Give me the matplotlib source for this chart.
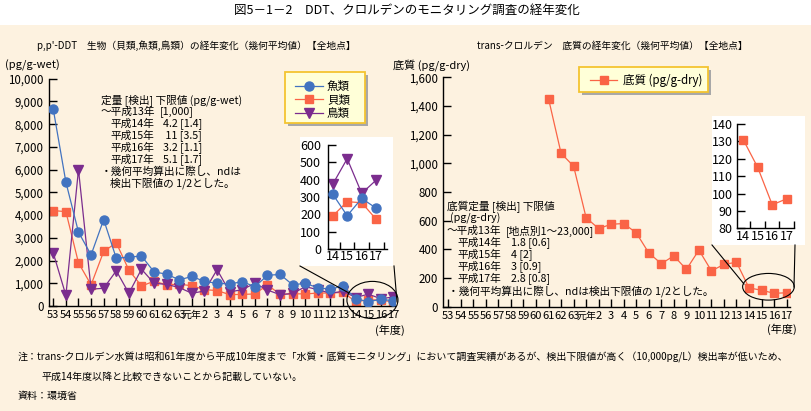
import matplotlib
matplotlib.use('Agg')
import matplotlib.pyplot as plt
from matplotlib.patches import Rectangle, Ellipse
from matplotlib.lines import Line2D
import numpy as np

plt.rcParams['font.family'] = ['Noto Sans CJK JP', 'DejaVu Sans']

# ---------------- data ----------------
years = ['53', '54', '55', '56', '57', '58', '59', '60', '61', '62', '63',
         '元年', '2', '3', '4', '5', '6', '7', '8', '9', '10', '11', '12', '13',
         '14', '15', '16', '17']
fish = [8650, 5450, 3250, 2250, 3800, 2100, 2150, 2200, 1500, 1400, 1150,
        1300, 1080, 1000, 970, 1070, 850, 1350, 1390, 930, 1000, 800, 740, 890,
        317, 192, 292, 235]
shell = [4200, 4150, 1900, 930, 2400, 2780, 1580, 880, 1090, 930, 960,
         890, 720, 680, 500, 510, 530, 930, 510, 540, 530, 570, 570, 600,
         190, 273, 267, 171]
bird = [2330, 470, 6000, 740, 780, 1550, 560, 1620, 1000, 950, 810,
        560, 660, 1600, 620, 720, 1000, 700, 500, 550, 850, 720, 560, 650,
        373, 521, 321, 398]
sediment = [np.nan] * 8 + [1450, 1070, 980,
                           620, 545, 575, 580, 515, 375, 300, 355, 260, 395, 250, 295, 310,
                           131, 115, 93.5, 97]
inset_years = ['14', '15', '16', '17']
left_yticks = list(range(0, 10001, 1000))
right_yticks = list(range(0, 1601, 200))

C_FISH = '#4273C0'
C_SHELL = '#FA6446'
C_BIRD = '#7B2D8E'
BEIGE = '#FDF2E0'

W, H = 811, 411
fig = plt.figure(figsize=(W / 100, H / 100), dpi=100)
fig.patch.set_facecolor('white')


def fx(px):
    return px / W


def fy(py):
    return 1 - py / H


def rect_ax(x0, y0, x1, y1):
    return [fx(x0), fy(y1), fx(x1) - fx(x0), fy(y0) - fy(y1)]


def T(x, y, s, size=7.7, ha='left', **kw):
    fig.text(fx(x), fy(y), s, fontsize=size, ha=ha, va='center', **kw)


# background band
fig.add_artist(Rectangle((0, 0), 1, fy(25), transform=fig.transFigure,
                         facecolor=BEIGE, edgecolor='none', zorder=-5))

styles = {
    'fish': dict(color=C_FISH, marker='o', ms=6.5, lw=0.9),
    'shell': dict(color=C_SHELL, marker='s', ms=5.6, lw=0.9),
    'bird': dict(color=C_BIRD, marker='v', ms=6.5, lw=0.9),
}


def style_axis(ax, fs=8.3, ypad=4, xpad=3):
    ax.set_facecolor('none')
    for s in ['top', 'right']:
        ax.spines[s].set_visible(False)
    for s in ['left', 'bottom']:
        ax.spines[s].set_linewidth(1.0)
        ax.spines[s].set_color('black')
    ax.tick_params(axis='both', direction='in', length=6, width=1.0,
                   labelsize=fs, colors='black')
    ax.tick_params(axis='y', pad=ypad)
    ax.tick_params(axis='x', pad=xpad)


def year_labels(ax):
    ax.set_xticks(np.arange(len(years)))
    ax.set_xticklabels(years)
    for lab in ax.get_xticklabels():
        lab.set_fontsize(8)
        if lab.get_text() == '元年':
            lab.set_fontsize(7.2)


x = np.arange(len(years))

# ---------------- left main ----------------
ax1 = fig.add_axes(rect_ax(49, 78.7, 395, 306))
style_axis(ax1)
ax1.plot(x, fish, **styles['fish'], zorder=3)
ax1.plot(x, shell, **styles['shell'], zorder=2)
ax1.plot(x, bird, **styles['bird'], zorder=2.5)
ax1.set_xlim(-0.34, 27.12)
ax1.set_ylim(0, 10000)
ax1.set_yticks(left_yticks)
ax1.set_yticklabels([f'{v:,}' for v in left_yticks])
year_labels(ax1)
ax1.add_patch(Ellipse((25.33, 265), 4.05, 1635, fill=False, edgecolor='black',
                      lw=0.8, clip_on=False, zorder=5))

# ---------------- right main ----------------
ax2 = fig.add_axes(rect_ax(443.3, 77.3, 790, 306.7))
style_axis(ax2)
ax2.plot(x, sediment, **styles['shell'])
ax2.set_xlim(-0.4, 27.27)
ax2.set_ylim(0, 1600)
ax2.set_yticks(right_yticks)
ax2.set_yticklabels([f'{v:,}' for v in right_yticks])
year_labels(ax2)
ax2.add_patch(Ellipse((25.55, 139), 4.12, 186, fill=False, edgecolor='black',
                      lw=0.8, clip_on=False, zorder=5))

# ---------------- insets ----------------
for box in [(300, 137, 393, 266), (712, 116, 805, 245)]:
    bx = fig.add_axes(rect_ax(*box))
    bx.set_facecolor('white')
    bx.set_xticks([]); bx.set_yticks([])
    for s in bx.spines.values():
        s.set_visible(False)

xi = np.arange(4)
ins1 = fig.add_axes(rect_ax(328, 145, 387, 249))
style_axis(ins1, fs=9, ypad=5, xpad=1)
ins1.set_facecolor('white')
ins1.plot(xi, fish[-4:], **styles['fish'], zorder=3)
ins1.plot(xi, shell[-4:], **styles['shell'])
ins1.plot(xi, bird[-4:], **styles['bird'])
ins1.set_xlim(-0.32, 3.74)
ins1.set_ylim(0, 600)
ins1.set_yticks(range(0, 601, 100))
ins1.set_xticks(xi)
ins1.set_xticklabels(inset_years)
ins1.tick_params(axis='x', which='major', length=0)
ins1.set_xticks(xi + 0.5, minor=True)
ins1.tick_params(axis='x', which='minor', direction='in', length=5, width=1)

ins2 = fig.add_axes(rect_ax(736.7, 124, 794, 228.3))
style_axis(ins2, fs=9, ypad=3, xpad=1)
ins2.set_facecolor('white')
ins2.plot(xi, sediment[-4:], **styles['shell'])
ins2.set_xlim(-0.45, 3.5)
ins2.set_ylim(80, 140)
ins2.set_yticks(range(80, 141, 10))
ins2.set_xticks(xi)
ins2.set_xticklabels(inset_years)
ins2.tick_params(axis='x', which='major', length=0)
ins2.set_xticks(xi + 0.5, minor=True)
ins2.tick_params(axis='x', which='minor', direction='in', length=5, width=1)

# connector lines
for (x0, y0, x1, y1) in [(300, 266, 349, 293), (394, 266, 397, 302),
                         (712, 245, 744, 284), (795, 245, 794, 287)]:
    fig.add_artist(Line2D([fx(x0), fx(x1)], [fy(y0), fy(y1)],
                          transform=fig.transFigure, color='black', lw=0.8))

# ---------------- legends ----------------
def legend_box(x0, y0, x1, y1):
    fig.add_artist(Rectangle((fx(x0 + 3), fy(y1 + 3)), fx(x1) - fx(x0), fy(y0) - fy(y1),
                             transform=fig.transFigure, facecolor='#A8A8A8',
                             edgecolor='none', zorder=3))
    fig.add_artist(Rectangle((fx(x0), fy(y1)), fx(x1) - fx(x0), fy(y0) - fy(y1),
                             transform=fig.transFigure, facecolor='#FFFFD8',
                             edgecolor='#F4C430', lw=1.3, zorder=3.1))


def legend_entry(xl0, xl1, y, st, label, tx):
    fig.add_artist(Line2D([fx(xl0), fx(xl1)], [fy(y), fy(y)], transform=fig.transFigure,
                          color=st['color'], lw=st['lw'], zorder=4))
    fig.add_artist(Line2D([fx((xl0 + xl1) / 2)], [fy(y)], transform=fig.transFigure,
                          color=st['color'], marker=st['marker'], ms=st['ms'],
                          lw=0, zorder=4.1))
    fig.text(fx(tx), fy(y), label, fontsize=8.3, ha='left', va='center', zorder=5)


legend_box(285, 72, 365, 123)
legend_entry(295, 323, 86, styles['fish'], '魚類', 327)
legend_entry(295, 323, 99.5, styles['shell'], '貝類', 327)
legend_entry(295, 323, 113, styles['bird'], '鳥類', 327)

legend_box(579, 67, 708, 92)
legend_entry(590, 617, 80.5, styles['shell'], '底質 (pg/g-dry)', 623)

# ---------------- texts ----------------
T(407, 10, '図5－1－2　DDT、クロルデンのモニタリング調査の経年変化', size=9, ha='center')
T(37, 46, "p,p'-DDT　生物（貝類,魚類,鳥類）の経年変化（幾何平均値）【全地点】", size=7)
T(477, 46, 'trans-クロルデン　底質の経年変化（幾何平均値）【全地点】', size=7)
T(5, 65, '(pg/g-wet)', size=8)
T(393, 65, '底質 (pg/g-dry)', size=8)
T(390, 330, '(年度)', size=8, ha='center')
T(782, 329, '(年度)', size=8, ha='center')

# left annotation
y0, dy = 100, 11.9
T(101, y0, '定量 [検出] 下限値 (pg/g-wet)')
T(101, y0 + dy, '～平成13年')
T(160, y0 + dy, '[1,000]')
for i, (yr, val) in enumerate([('平成14年', '4.2 [1.4]'), ('平成15年', ' 11 [3.5]'),
                                ('平成16年', '3.2 [1.1]'), ('平成17年', '5.1 [1.7]')]):
    T(110, y0 + dy * (2 + i), yr)
    T(163, y0 + dy * (2 + i), val)
T(101, y0 + dy * 6, '・幾何平均算出に際し、ndは')
T(110, y0 + dy * 7, '検出下限値の 1/2とした。')

# right annotation
y0, dy = 206.7, 12
T(446.7, y0, '底質定量 [検出] 下限値')
T(450, y0 + dy, '(pg/g-dry)')
T(446.7, y0 + dy * 2, '～平成13年')
T(506, y0 + dy * 2, '[地点別1～23,000]')
for i, (yr, val) in enumerate([('平成14年', '1.8 [0.6]'), ('平成15年', '4 [2]'),
                                ('平成16年', '3 [0.9]'), ('平成17年', '2.8 [0.8]')]):
    T(457.3, y0 + dy * (3 + i), yr)
    T(511, y0 + dy * (3 + i), val)
T(448, y0 + dy * 7, '・幾何平均算出に際し、ndは検出下限値の 1/2とした。')

# footnotes
T(18, 357, '注：trans-クロルデン水質は昭和61年度から平成10年度まで「水質・底質モニタリング」において調査実績があるが、'
           '検出下限値が高く（10,000pg/L）検出率が低いため、', size=7.2)
T(41, 377, '平成14年度以降と比較できないことから記載していない。', size=7.2)
T(18, 396, '資料：環境省', size=7.2)

fig.savefig('out.png', dpi=100, facecolor=fig.get_facecolor())
